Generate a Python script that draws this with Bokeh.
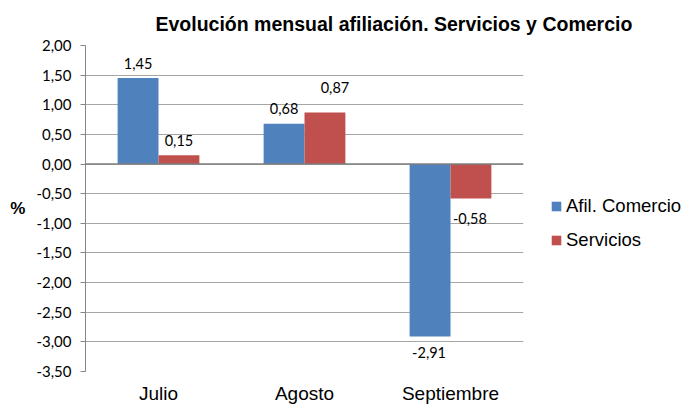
from bokeh.plotting import figure
from bokeh.models import (ColumnDataSource, Range1d, FixedTicker, Legend, LegendItem, Span)
from bokeh.transform import dodge
from bokeh.core.properties import value
from bokeh.embed import file_html
from bokeh.resources import INLINE

# ---- data ----
months = ["Julio", "Agosto", "Septiembre"]
comercio = [1.45, 0.68, -2.91]
servicios = [0.15, 0.87, -0.58]
comercio_labels = ["1,45", "0,68", "-2,91"]
servicios_labels = ["0,15", "0,87", "-0,58"]
y_ticks = [-3.5, -3.0, -2.5, -2.0, -1.5, -1.0, -0.5, 0.0, 0.5, 1.0, 1.5, 2.0]
y_tick_labels = ["-3,50", "-3,00", "-2,50", "-2,00", "-1,50", "-1,00", "-0,50",
                 "0,00", "0,50", "1,00", "1,50", "2,00"]
series_names = ["Afil. Comercio", "Servicios"]
title_text = "Evolución mensual afiliación.  Servicios y Comercio"
y_title = "%"

# ---- styles ----
BLUE = "#4F81BD"
RED = "#C0504D"
GRID = "#A6A6A6"
AXIS = "#868686"
LABEL_FONT = "Lato"
# pixel offsets of value labels (x, y) per bar
com_xoff = [0, 0, -1]
com_yoff = [-15, -15, 16]
ser_xoff = [0, 10, -1]
ser_yoff = [-15, -25, 20]

src = ColumnDataSource(dict(
    month=months, com=comercio, ser=servicios,
    com_lab=comercio_labels, ser_lab=servicios_labels,
    com_xoff=com_xoff, com_yoff=com_yoff, ser_xoff=ser_xoff, ser_yoff=ser_yoff,
))

p = figure(x_range=months, y_range=Range1d(-3.5, 2.0),
           frame_width=438, frame_height=326,
           min_border_left=85, min_border_right=160,
           min_border_top=45, min_border_bottom=34,
           output_backend="svg", toolbar_location=None,
           title=title_text)
p.outline_line_color = None
p.background_fill_color = "white"
p.border_fill_color = "white"

# title
p.title.text_font = "Liberation Sans"
p.title.text_font_style = "bold"
p.title.text_font_size = "19.5px"
p.title.text_color = "black"
p.title.align = "left"
p.title.offset = 70
p.title.standoff = 21

BAR_W = 0.28
r_com = p.vbar(x=dodge("month", -BAR_W / 2, range=p.x_range), top="com", bottom=0,
               width=BAR_W, source=src, fill_color=BLUE, line_color=None)
r_ser = p.vbar(x=dodge("month", BAR_W / 2, range=p.x_range), top="ser", bottom=0,
               width=BAR_W, source=src, fill_color=RED, line_color=None)

# zero line (category axis crossing)
p.add_layout(Span(location=0, dimension="width", line_color="#7F7F7F", line_width=1.5))

# value labels
p.text(x=dodge("month", -BAR_W / 2, range=p.x_range), y="com", text="com_lab",
       x_offset="com_xoff", y_offset="com_yoff", source=src,
       text_align="center", text_baseline="middle",
       text_font=value(LABEL_FONT), text_font_size="14.5px", text_color="black")
p.text(x=dodge("month", BAR_W / 2, range=p.x_range), y="ser", text="ser_lab",
       x_offset="ser_xoff", y_offset="ser_yoff", source=src,
       text_align="center", text_baseline="middle",
       text_font=value(LABEL_FONT), text_font_size="14.5px", text_color="black")

# grid
p.xgrid.grid_line_color = None
p.ygrid.grid_line_color = GRID
p.ygrid.grid_line_width = 1
p.yaxis.ticker = FixedTicker(ticks=y_ticks)
p.yaxis.major_label_overrides = {t: l for t, l in zip(y_ticks, y_tick_labels)}

# y axis
p.yaxis.axis_line_color = AXIS
p.yaxis.major_tick_line_color = AXIS
p.yaxis.major_tick_out = 5
p.yaxis.major_tick_in = 0
p.yaxis.minor_tick_line_color = None
p.yaxis.major_label_standoff = 9
p.yaxis.major_label_text_font = LABEL_FONT
p.yaxis.major_label_text_font_size = "15px"
p.yaxis.major_label_text_color = "black"
p.yaxis.axis_label = y_title
p.yaxis.axis_label_orientation = "horizontal"
p.yaxis.axis_label_standoff = 8
p.yaxis.axis_label_text_font = "Liberation Sans"
p.yaxis.axis_label_text_font_style = "bold"
p.yaxis.axis_label_text_font_size = "17px"
p.yaxis.axis_label_text_color = "black"

# x axis
p.xaxis.axis_line_color = None
p.xaxis.major_tick_line_color = None
p.xaxis.major_tick_out = 0
p.xaxis.major_label_standoff = 11
p.xaxis.major_label_text_font = "Liberation Sans"
p.xaxis.major_label_text_font_size = "19px"
p.xaxis.major_label_text_color = "black"

# legend
legend = Legend(items=[LegendItem(label=series_names[0], renderers=[r_com]),
                       LegendItem(label=series_names[1], renderers=[r_ser])],
                location=(27, 120), orientation="vertical",
                padding=0, margin=0, spacing=12,
                glyph_width=12, glyph_height=12, label_height=20,
                label_standoff=4,
                label_text_font="Liberation Sans", label_text_font_size="18.5px",
                label_text_color="black",
                border_line_color=None, background_fill_alpha=0)
p.add_layout(legend, "right")

open("out.html", "w").write(file_html(p, INLINE))
